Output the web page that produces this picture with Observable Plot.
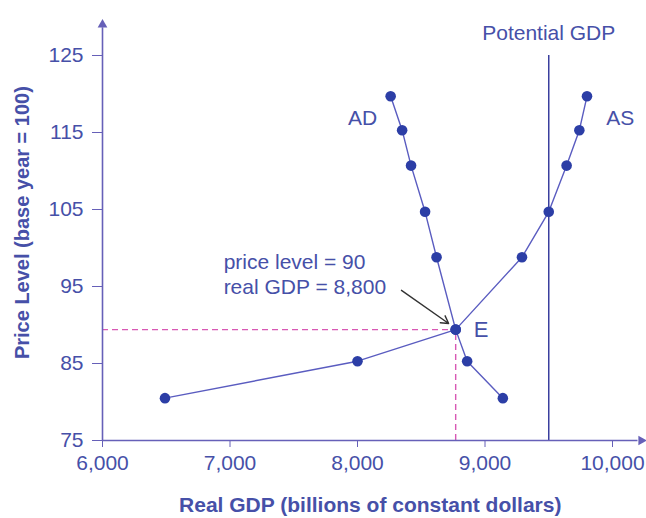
<!DOCTYPE html>
<html>
<head>
<meta charset="utf-8">
<script src="https://cdn.jsdelivr.net/npm/d3@7"></script>
<script src="https://cdn.jsdelivr.net/npm/@observablehq/plot@0.6"></script>
<style>
  html, body { margin: 0; padding: 0; background: #ffffff; }
  #chart { width: 646px; height: 518px; }
</style>
</head>
<body>
<div id="chart"></div>
<script>
// ---- data ----
const adGDP   = [8260, 8350, 8420, 8530, 8620, 8770, 8860, 9140];
const adPrice = [119.7, 115.3, 110.7, 104.7, 98.8, 89.4, 85.3, 80.5];
const asGDP   = [6490, 8000, 8770, 9290, 9500, 9640, 9740, 9800];
const asPrice = [80.5, 85.3, 89.4, 98.8, 104.7, 110.7, 115.3, 119.7];
const eqGDP = 8770;
const eqPrice = 89.4;
const potentialGDP = 9500;
const xTicks = [6000, 7000, 8000, 9000, 10000];
const yTicks = [75, 85, 95, 105, 115, 125];
const annotation = ["price level = 90", "real GDP = 8,800"];

const ad = adGDP.map((g, i) => ({gdp: g, price: adPrice[i]}));
const as = asGDP.map((g, i) => ({gdp: g, price: asPrice[i]}));

const axisColor = "#6660b8";
const textColor = "#4650a8";
const dotColor = "#2c3ea6";
const lineColor = "#5a5cc0";
const dashColor = "#d858b4";
const font = "'Liberation Sans', Arial, sans-serif";
const fs = 21;

const chart = Plot.plot({
  width: 646,
  height: 518,
  marginLeft: 102,
  marginRight: 34,
  marginTop: 55,
  marginBottom: 78,
  style: {fontFamily: font, background: "#ffffff", overflow: "visible"},
  x: {domain: [6000, 10000]},
  y: {domain: [75, 125]},
  marks: [
    // equilibrium dashed guides
    Plot.ruleY([eqPrice], {x1: 6000, x2: eqGDP, stroke: dashColor, strokeWidth: 1.4, strokeDasharray: "6,4"}),
    Plot.ruleX([eqGDP], {y1: 75, y2: eqPrice, stroke: dashColor, strokeWidth: 1.4, strokeDasharray: "6,4"}),
    // potential GDP
    Plot.ruleX([potentialGDP], {y1: 75, y2: 125, stroke: "#3a3f9e", strokeWidth: 1.5}),
    Plot.text(["Potential GDP"], {x: potentialGDP, y: 127.9, fill: textColor, fontSize: fs, textAnchor: "middle"}),
    // axes lines with arrow heads
    Plot.ruleX([6000], {y1: 75, y2: 128.6, stroke: axisColor, strokeWidth: 1.6}),
    Plot.dot([6000], {x: d => d, y: 129.0, symbol: "triangle", r: 3.6, fill: axisColor, stroke: "none"}),
    Plot.ruleY([75], {x1: 6000, x2: 10200, stroke: axisColor, strokeWidth: 1.6}),
    Plot.dot([75], {x: 10225, y: d => d, symbol: "triangle", r: 3.6, rotate: 90, fill: axisColor, stroke: "none"}),
    Plot.axisX({ticks: xTicks, tickFormat: d3.format(","), tickSize: 7, tickPadding: 8, fontSize: fs, color: textColor, stroke: axisColor, label: null}),
    Plot.axisY({ticks: yTicks, tickSize: 10, tickPadding: 9, fontSize: fs, color: textColor, stroke: axisColor, label: null}),
    // curves
    Plot.line(ad, {x: "gdp", y: "price", stroke: lineColor, strokeWidth: 1.4}),
    Plot.line(as, {x: "gdp", y: "price", stroke: lineColor, strokeWidth: 1.4}),
    Plot.dot(ad, {x: "gdp", y: "price", r: 5.3, fill: dotColor, stroke: "none"}),
    Plot.dot(as, {x: "gdp", y: "price", r: 5.3, fill: dotColor, stroke: "none"}),
    // curve labels
    Plot.text(["AD"], {x: 8040, y: 116.9, fill: textColor, fontSize: fs, textAnchor: "middle"}),
    Plot.text(["AS"], {x: 10060, y: 116.9, fill: textColor, fontSize: fs, textAnchor: "middle"}),
    Plot.text(["E"], {x: eqGDP, y: eqPrice, dx: 18, fill: textColor, fontSize: fs + 1, textAnchor: "start"}),
    // annotation
    Plot.text([annotation[0]], {x: 6950, y: 98.1, fill: textColor, fontSize: fs, textAnchor: "start"}),
    Plot.text([annotation[1]], {x: 6950, y: 94.9, fill: textColor, fontSize: fs, textAnchor: "start"}),
    Plot.arrow([0], {x1: 8345, y1: 94.5, x2: 8715, y2: 90.2, stroke: "#333333", strokeWidth: 1.4, headLength: 9}),
    // axis titles
    Plot.text(["Price Level (base year = 100)"], {x: 5375, y: 103.3, rotate: -90, fill: textColor, fontSize: 20, fontWeight: "bold", textAnchor: "middle"}),
    Plot.text(["Real GDP (billions of constant dollars)"], {x: 8100, y: 66.6, fill: textColor, fontSize: 21, fontWeight: "bold", textAnchor: "middle"})
  ]
});
document.getElementById("chart").appendChild(chart);
</script>
</body>
</html>
